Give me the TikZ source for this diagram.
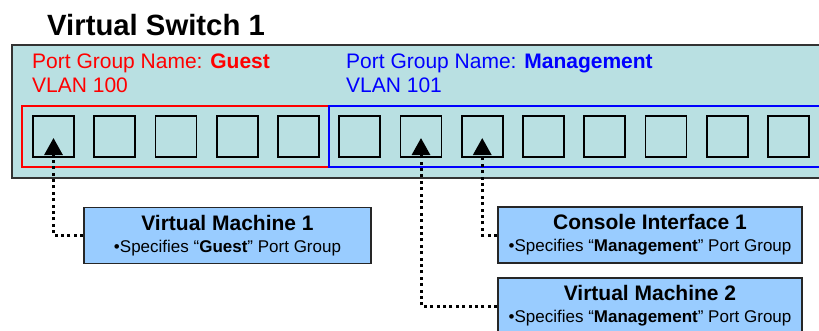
\documentclass[tikz,border=0pt]{standalone}
\usepackage{fontspec}
\setmainfont{Liberation Sans}
\usetikzlibrary{arrows.meta}

\definecolor{switchfill}{RGB}{185,224,226}
\definecolor{boxfill}{RGB}{153,204,255}

\tikzset{
	port/.style={draw=black, line width=1.8pt, minimum size=41pt, inner sep=0pt},
	endpoint/.style={draw=black!85, line width=1.6pt, fill=boxfill, inner sep=0pt,
		minimum width=#1, minimum height=56pt, align=center,
		font=\fontsize{17}{22}\selectfont},
	link/.style={line width=3pt, dash pattern=on 3pt off 3.4pt,
		-{Triangle[width=18pt 0,length=17pt 0]}},
	grouplabel/.style={anchor=north west, inner sep=0pt, align=left,
		font=\fontsize{21}{24}\selectfont}
}

\begin{document}
\begin{tikzpicture}[x=1pt,y=-1pt]
		\useasboundingbox (0,0) rectangle (819,330);
		\clip (0,0) rectangle (819,330);

		% switch
		\node[anchor=base west, inner sep=0pt, font=\fontsize{29.3}{30}\selectfont\bfseries] (title) at (47,35) {Virtual Switch 1};
		\draw[draw=black!80, line width=1.6pt, fill=switchfill] (12,45) rectangle (840,177.7);

		\node[grouplabel, text=red] (guest) at (32,54) {Port Group Name: \textbf{Guest}\\VLAN 100};
		\node[grouplabel, text=blue] (mgmt) at (346,54) {Port Group Name: \textbf{Management}\\VLAN 101};

		\draw[red, line width=1.2pt] (22,106) rectangle (329,167);
		\draw[blue, line width=1.2pt] (329,106) rectangle (840,167);

		\foreach \i in {1,...,13}
			\node[port] (p\i) at ({53.5+61.25*(\i-1)},136.5) {};

		% machines
		\node[endpoint=287pt] (vm1) at (227.5,235.5) {{\fontsize{21}{22}\selectfont\bfseries Virtual Machine 1}\\•Specifies “\textbf{Guest}” Port Group};
		\node[endpoint=304pt] (con1) at (650,235) {{\fontsize{21}{22}\selectfont\bfseries Console Interface 1}\\•Specifies “\textbf{Management}” Port Group};
		\node[endpoint=304pt] (vm2) at (650,306) {{\fontsize{21}{22}\selectfont\bfseries Virtual Machine 2}\\•Specifies “\textbf{Management}” Port Group};

		\draw[link] (vm1.west) -| ([yshift=-1.5pt]p1.center);
		\draw[link] (con1.west) -| ([yshift=-1.5pt]p8.center);
		\draw[link] (vm2.west) -| ([yshift=-1.5pt]p7.center);
\end{tikzpicture}
\end{document}
